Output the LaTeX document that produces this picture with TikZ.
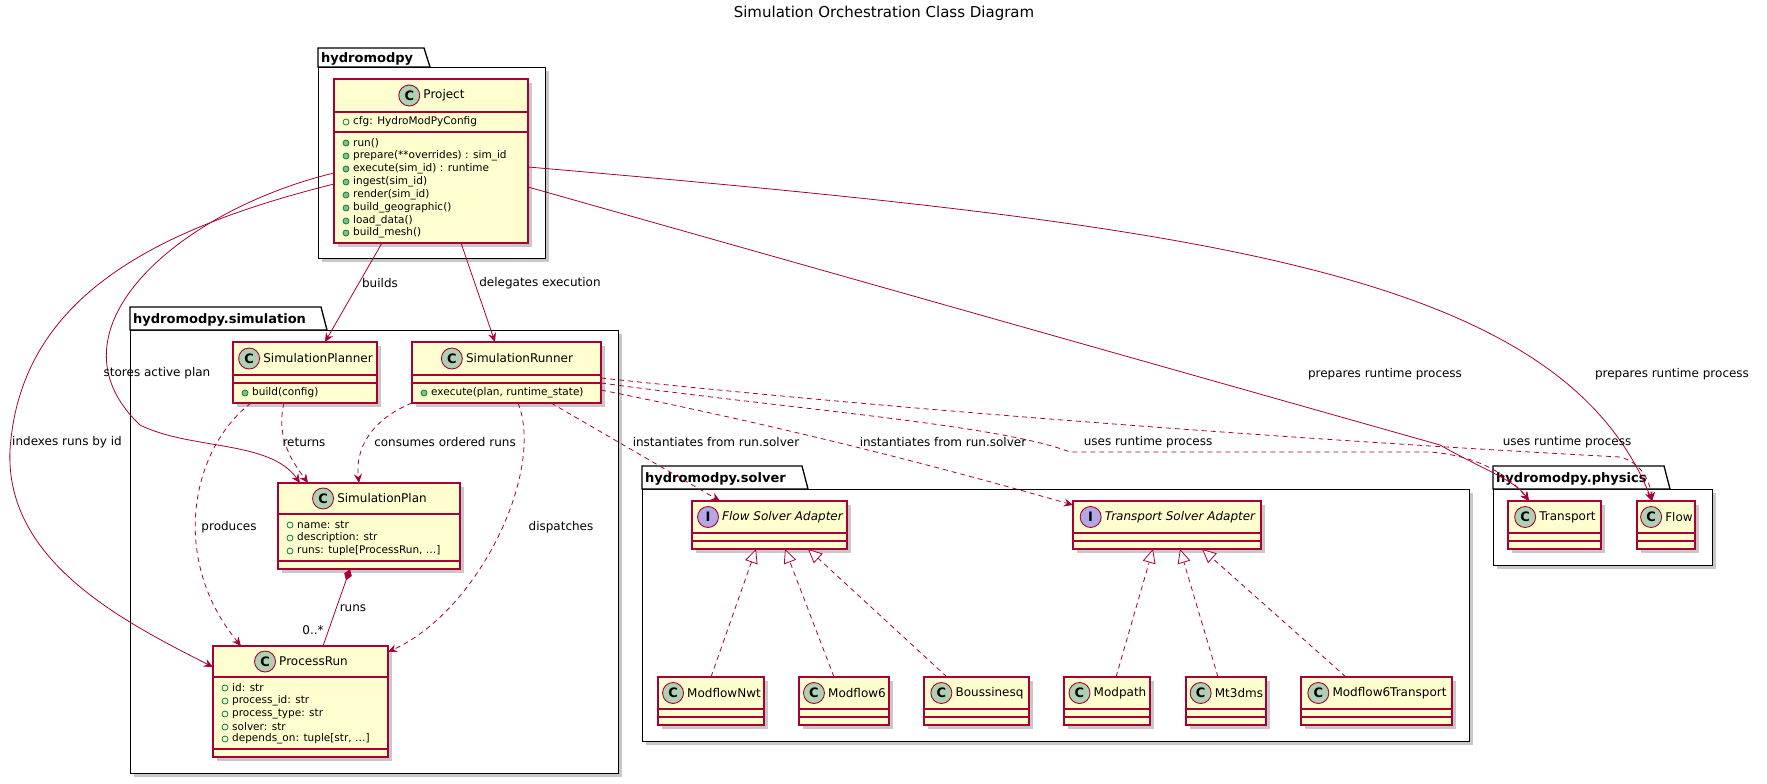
\documentclass[tikz,border=0pt]{standalone}
\usepackage{fontspec}
\setmainfont{DejaVu Sans}
\usetikzlibrary{arrows.meta,calc}
\definecolor{clsborder}{HTML}{A80036}
\definecolor{clsfill}{HTML}{FEFECE}
\definecolor{cgreen}{HTML}{ADD1B2}
\definecolor{ipurple}{HTML}{B4A7E5}
\definecolor{mgreen}{HTML}{038048}
\definecolor{mfill}{HTML}{84BE84}
\definecolor{shadowc}{HTML}{C8C8C8}
\tikzset{
  shadowfill/.style={fill=shadowc},
  pkgline/.style={draw=black,line width=1.3pt},
  pkgtitle/.style={font=\fontsize{13}{15}\selectfont\bfseries,inner sep=0pt},
  clsbox/.style={draw=clsborder,fill=clsfill,line width=1.2pt,inner sep=0pt,outer sep=0pt},
  clsline/.style={draw=clsborder,line width=1.2pt},
  titlefont/.style={font=\fontsize{12}{14}\selectfont,inner sep=0pt},
  circC/.style={fill=cgreen},
  circI/.style={fill=ipurple},
  memfont/.style={font=\fontsize{10.5}{12}\selectfont,inner sep=0pt,anchor=west},
  lbl/.style={font=\fontsize{12}{14}\selectfont,inner sep=1pt},
  rel/.style={draw=clsborder,line width=0.8pt,-{Stealth[length=9pt,width=8pt,inset=3pt]}},
  dep/.style={rel,dashed,dash pattern=on 5pt off 4pt},
  real/.style={draw=clsborder,line width=0.8pt,dashed,dash pattern=on 5pt off 4pt,-{Triangle[open,length=14pt,width=13pt,fill=white]}},
  comp/.style={draw=clsborder,line width=0.8pt,{Diamond[length=12pt,width=8pt,fill=clsborder]}-},
}
\newcommand\umlpkg[8]{% name x1 tabtop bodytop x2 bottom tabright title
  \fill[shadowfill] (#2+4,#4+4) rectangle (#5+4,#6+4);
  \node[draw=black,line width=1.3pt,fill=white,anchor=north west,inner sep=0pt,minimum width={(#5-#2)*1pt},minimum height={(#6-#4)*1pt}] (#1) at (#2,#4) {};
  \draw[pkgline,fill=white] (#2,#4) -- (#2,#3) -- (#7-6,#3) -- (#7,#4) -- cycle;
  \node[pkgtitle,anchor=west] at (#2+3,{(#3+#4)/2+1}) {#8};}
\newcommand\umlcls[9]{% name x1 y1 x2 y2 hdr sep letter title
  \fill[shadowfill] (#2+4,#3+4) rectangle (#4+4,#5+4);
  \node[clsbox,anchor=north west,minimum width={(#4-#2)*1pt},minimum height={(#5-#3)*1pt}] (#1) at (#2,#3) {};
  \draw[clsline] (#2,#6) -- (#4,#6) (#2,#7) -- (#4,#7);
  \node[titlefont] (#1-t) at ({(#2+#4)/2+13},{(#3+#6)/2}) {#9};
  \node[circle,circ#8,draw=clsborder,line width=0.9pt,minimum size=21pt,inner sep=0pt,font=\fontsize{13}{13}\selectfont\bfseries] at ([xshift=-14pt]#1-t.west) {#8};}
\newcommand\fld[3]{\draw[mgreen,line width=0.8pt] (#1+12,#2) circle (3pt); \node[memfont] at (#1+19,#2) {#3};}
\newcommand\mth[3]{\draw[mgreen,fill=mfill,line width=0.8pt] (#1+12,#2) circle (3pt); \node[memfont] at (#1+19,#2) {#3};}
\begin{document}
\begin{tikzpicture}[x=1pt,y=-1pt]
\useasboundingbox[fill=white] (0,0) rectangle (1767,784);
\node[font=\fontsize{15}{17}\selectfont] (title) at (884,13) {Simulation Orchestration Class Diagram};
% packages
\umlpkg{pkgmain}{318}{48}{67}{545}{258}{430}{hydromodpy}
\umlpkg{pkgsim}{130}{307}{330}{618}{773}{327}{hydromodpy.simulation}
\umlpkg{pkgsolver}{642}{466}{489}{1469}{741}{808}{hydromodpy.solver}
\umlpkg{pkgphys}{1493}{466}{489}{1712}{565}{1670}{hydromodpy.physics}
% classes
\umlcls{proj}{334}{79}{528}{243}{112}{132}{C}{Project}
\fld{334}{122}{cfg: HydroModPyConfig}
\mth{334}{143}{run()}
\mth{334}{156}{prepare(**overrides) : sim\_id}
\mth{334}{169}{execute(sim\_id) : runtime}
\mth{334}{182}{ingest(sim\_id)}
\mth{334}{195}{render(sim\_id)}
\mth{334}{208}{build\_geographic()}
\mth{334}{221}{load\_data()}
\mth{334}{233}{build\_mesh()}
\umlcls{planner}{233}{342}{377}{403}{375}{383}{C}{SimulationPlanner}
\mth{233}{393}{build(config)}
\umlcls{runner}{412}{342}{601}{403}{375}{383}{C}{SimulationRunner}
\mth{412}{393}{execute(plan, runtime\_state)}
\umlcls{plan}{278}{483}{460}{569}{514}{561}{C}{SimulationPlan}
\fld{278}{525}{name: str}
\fld{278}{538}{description: str}
\fld{278}{551}{runs: tuple[ProcessRun, …]}
\umlcls{prun}{213}{646}{388}{757}{677}{749}{C}{ProcessRun}
\fld{213}{688}{id: str}
\fld{213}{701}{process\_id: str}
\fld{213}{714}{process\_type: str}
\fld{213}{727}{solver: str}
\fld{213}{739}{depends\_on: tuple[str, …]}
\umlcls{flowA}{692}{501}{847}{549}{533}{541}{I}{\itshape Flow Solver Adapter}
\umlcls{transA}{1073}{501}{1261}{549}{533}{541}{I}{\itshape Transport Solver Adapter}
\umlcls{mnwt}{658}{677}{764}{725}{709}{717}{C}{ModflowNwt}
\umlcls{mfsix}{799}{677}{889}{725}{709}{717}{C}{Modflow6}
\umlcls{bous}{924}{677}{1029}{725}{709}{717}{C}{Boussinesq}
\umlcls{mpath}{1064}{677}{1150}{725}{709}{717}{C}{Modpath}
\umlcls{mtdms}{1186}{677}{1266}{725}{709}{717}{C}{Mt3dms}
\umlcls{mfsixt}{1301}{677}{1452}{725}{709}{717}{C}{Modflow6Transport}
\umlcls{transP}{1508}{501}{1601}{549}{533}{541}{C}{Transport}
\umlcls{flowP}{1637}{501}{1695}{549}{533}{541}{C}{Flow}
% relations from Project
\draw[rel] ([xshift=-49pt]proj.south) -- ([xshift=20pt]planner.north);
\draw[rel] ([xshift=30pt]proj.south) -- ([xshift=-11.5pt]runner.north);
\draw[rel] ([yshift=-12pt]proj.west) .. controls (180,210) and (40,330) .. (140,425) .. controls (190,450) and (270,440) .. ([xshift=-69pt]plan.north);
\draw[rel] ([yshift=-23pt]proj.west) .. controls (150,230) and (20,300) .. (10,450) .. controls (5,560) and (120,620) .. ([yshift=34.5pt]prun.west);
\draw[rel] ([yshift=-26pt]proj.east) -- (1440,445) .. controls (1480,468) and (1515,480) .. ([xshift=-25.5pt]transP.north);
\draw[rel] ([yshift=-6pt]proj.east) .. controls (1200,225) and (1560,270) .. ([xshift=-14pt]flowP.north);
% dependencies in simulation
\draw[dep] ([xshift=-54pt]planner.south) .. controls (190,450) and (170,560) .. ([xshift=-59.5pt]prun.north);
\draw[dep] ([xshift=-21pt]planner.south) .. controls (275,440) and (295,465) .. ([xshift=-61pt]plan.north);
\draw[dep] (runner.south west) .. controls (370,420) and (355,450) .. ([xshift=-10pt]plan.north);
\draw[dep] ([xshift=11.5pt]runner.south) .. controls (545,470) and (480,610) .. ([yshift=-6pt]prun.north east);
\draw[comp] ([xshift=-19pt]plan.south) -- ([xshift=22.5pt]prun.north);
% runner to solver and physics
\draw[dep] ([xshift=44.5pt]runner.south) -- ([xshift=-49.5pt]flowA.north);
\draw[dep] ([yshift=-17.5pt]runner.east) .. controls (800,430) and (950,470) .. ([yshift=-4pt]transA.north west);
\draw[dep] ([yshift=-10.5pt]runner.east) .. controls (800,410) and (1000,425) .. (1070,452) -- (1430,452) .. controls (1470,455) and (1505,470) .. ([xshift=-25.5pt]transP.north);
\draw[dep] ([yshift=-5.5pt]runner.east) .. controls (900,410) and (1300,440) .. (1620,457) .. controls (1640,462) and (1650,480) .. ([xshift=-14pt]flowP.north);
% realizations
\draw[real] (mnwt.north) -- ([xshift=-13.5pt]flowA.south);
\draw[real] ([xshift=-10pt]mfsix.north) -- ([xshift=15.5pt]flowA.south);
\draw[real] ([xshift=-29.5pt]bous.north) -- ([xshift=38.5pt]flowA.south);
\draw[real] ([xshift=9pt]mpath.north) -- ([xshift=-14pt]transA.south);
\draw[real] ([xshift=-8pt]mtdms.north) -- ([xshift=13pt]transA.south);
\draw[real] ([xshift=-30.5pt]mfsixt.north) -- ([xshift=35pt]transA.south);
% labels
\node[lbl] (l1) at (380,283) {builds};
\node[lbl] (l2) at (540,283) {delegates execution};
\node[lbl] (l3) at (157,373) {stores active plan};
\node[lbl] (l4) at (67,442) {indexes runs by id};
\node[lbl] (l5) at (304,442) {returns};
\node[lbl] (l6) at (445,442) {consumes ordered runs};
\node[lbl] (l7) at (229,527) {produces};
\node[lbl] (l8) at (561,527) {dispatches};
\node[lbl] (l9) at (353,608) {runs};
\node[lbl] (l10) at (313,630) {0..*};
\node[lbl] (l11) at (716,442) {instantiates from run.solver};
\node[lbl] (l12) at (943,442) {instantiates from run.solver};
\node[lbl] (l13) at (1148,442) {uses runtime process};
\node[lbl] (l14) at (1567,442) {uses runtime process};
\node[lbl] (l15) at (1385,374) {prepares runtime process};
\node[lbl] (l16) at (1672,374) {prepares runtime process};
\end{tikzpicture}
\end{document}
